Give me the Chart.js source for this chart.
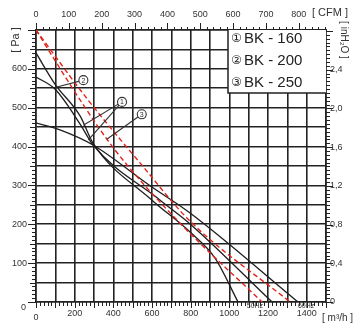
<!DOCTYPE html>
<html><head><meta charset="utf-8">
<script src="https://cdn.jsdelivr.net/npm/chart.js@4.4.1/dist/chart.umd.min.js"></script>
<style>html,body{margin:0;padding:0;background:#fff}</style>
</head><body>
<canvas id="grafico" width="357" height="327"></canvas>
<script>
// caudal en m3/h, presion en Pa
const caudalBK160 = [0, 98, 228, 295, 600, 797, 926, 1045];
const presionBK160 = [641, 561, 479, 409, 262, 180, 113, 0];
const caudalBK200 = [0, 98, 228, 295, 642, 797, 1221];
const presionBK200 = [579, 548, 458, 404, 262, 201, 0];
const caudalBK250 = [0, 124, 295, 590, 797, 1355];
const presionBK250 = [461, 443, 404, 299, 229, 0];
const caudalRojo1 = [0, 228, 409, 729, 1169];
const presionRojo1 = [700, 520, 391, 211, 0];
const caudalRojo2 = [0, 269, 538, 797, 1314];
const presionRojo2 = [700, 520, 358, 208, 0];

const etiquetasM3h = [200, 400, 600, 800, 1000, 1200, 1400];
const etiquetasPa = [100, 200, 300, 400, 500, 600];
const etiquetasCFM = [0, 100, 200, 300, 400, 500, 600, 700, 800];
const etiquetasInH2O = [0, 0.4, 0.8, 1.2, 1.6, 2.0, 2.4];
const nombres = ['BK - 160', 'BK - 200', 'BK - 250'];
const simbolos = ['\u2460', '\u2461', '\u2462'];

// marcas numeradas con sus lineas guia (en m3/h y Pa)
const marcas = [
  { n: '1', en: [445, 515], a: [[245, 455], [271, 417]] },
  { n: '2', en: [245, 571], a: [[98, 552]] },
  { n: '3', en: [547, 483], a: [[366, 419]] }
];

const M3H_POR_CFM = 1.699;
const PA_POR_INH2O = 249.09;
const fuente = '"Liberation Sans", Arial, sans-serif';

const pares = (xs, ys) => xs.map((x, i) => ({ x: x, y: ys[i] }));

const negro = '#1e1e1e';
const rojo = '#e3241c';

const extras = {
  id: 'extras',
  beforeDatasetsDraw(chart) {
    const { ctx, chartArea: a } = chart;
    ctx.save();
    const x0 = 228, y1 = 93;
    ctx.fillStyle = '#fff';
    ctx.fillRect(x0, a.top, a.right - x0, y1 - a.top);
    ctx.strokeStyle = '#222';
    ctx.lineWidth = 1.5;
    ctx.beginPath();
    ctx.moveTo(x0, a.top); ctx.lineTo(x0, y1); ctx.lineTo(a.right, y1);
    ctx.stroke();
    ctx.fillStyle = '#222';
    ctx.textBaseline = 'middle';
    nombres.forEach((t, i) => {
      const yy = 39 + i * 22;
      ctx.font = '12px "DejaVu Sans"';
      ctx.fillText(simbolos[i], 231, yy);
      ctx.font = '15px ' + fuente;
      ctx.fillText(t, 244, yy);
    });
    ctx.restore();
  },
  afterDraw(chart) {
    const { ctx, chartArea: a, scales } = chart;
    const sx = scales.x, sy = scales.y, sx2 = scales.x2, sy2 = scales.y2;
    ctx.save();
    ctx.strokeStyle = '#222';
    ctx.lineWidth = 1;
    ctx.beginPath();
    for (let v = 0; v <= 1500; v += 20) {
      const p = Math.round(sx.getPixelForValue(v)) + 0.5;
      const l = v % 100 === 0 ? 6 : 4;
      ctx.moveTo(p, a.bottom); ctx.lineTo(p, a.bottom + l);
    }
    for (let v = 0; v <= 700; v += 10) {
      const p = Math.round(sy.getPixelForValue(v)) + 0.5;
      const l = v % 100 === 0 ? 8 : (v % 50 === 0 ? 6 : 4);
      ctx.moveTo(a.left - l, p); ctx.lineTo(a.left, p);
    }
    for (let v = 0; v <= sx2.max; v += 20) {
      const p = Math.round(sx2.getPixelForValue(v)) + 0.5;
      const l = v % 100 === 0 ? 7 : 3;
      ctx.moveTo(p, a.top - l); ctx.lineTo(p, a.top);
    }
    for (let i = 0; i * 0.04 <= sy2.max; i++) {
      const p = Math.round(sy2.getPixelForValue(i * 0.04)) + 0.5;
      const l = i % 10 === 0 ? 7 : 4;
      ctx.moveTo(a.right, p); ctx.lineTo(a.right + l, p);
    }
    ctx.stroke();

    // marcas numeradas
    ctx.lineWidth = 1.1;
    ctx.strokeStyle = '#333';
    marcas.forEach(m => {
      const cx = sx.getPixelForValue(m.en[0]), cy = sy.getPixelForValue(m.en[1]);
      m.a.forEach(p => {
        ctx.beginPath();
        ctx.moveTo(cx, cy);
        ctx.lineTo(sx.getPixelForValue(p[0]), sy.getPixelForValue(p[1]));
        ctx.stroke();
      });
      ctx.beginPath();
      ctx.arc(cx, cy, 4.5, 0, Math.PI * 2);
      ctx.fillStyle = '#fff';
      ctx.fill();
      ctx.stroke();
      ctx.fillStyle = '#333';
      ctx.font = '7px ' + fuente;
      ctx.textAlign = 'center';
      ctx.textBaseline = 'middle';
      ctx.fillText(m.n, cx, cy + 0.5);
    });

    // textos de ejes
    ctx.fillStyle = '#333';
    ctx.font = '9px ' + fuente;
    ctx.textAlign = 'center';
    ctx.textBaseline = 'middle';
    ctx.fillText('0', a.left, 318);
    ctx.textAlign = 'right';
    ctx.fillText('0', 26, 308);
    ctx.textAlign = 'left';
    ctx.font = '7px ' + fuente;
    ctx.fillText('50Hz', sx.getPixelForValue(1090), a.bottom + 4);
    ctx.fillText('60Hz', sx.getPixelForValue(1355), a.bottom + 4);
    ctx.font = '11px ' + fuente;
    ctx.fillText('[ CFM ]', 312, 13);
    ctx.font = '10px ' + fuente;
    ctx.fillText('[ m\u00b3/h ]', 322, 318);
    ctx.save();
    ctx.translate(16, 40);
    ctx.rotate(-Math.PI / 2);
    ctx.textAlign = 'center';
    ctx.font = '11px ' + fuente;
    ctx.fillText('[ Pa ]', 0, 0);
    ctx.restore();
    ctx.save();
    ctx.translate(344, 40);
    ctx.rotate(Math.PI / 2);
    ctx.textAlign = 'center';
    ctx.font = '10px ' + fuente;
    ctx.fillText('[ inH\u2082O ]', 0, 0);
    ctx.restore();
    ctx.restore();
  }
};

const curva = (xs, ys, color, guiones) => ({
  data: pares(xs, ys),
  showLine: true,
  borderColor: color,
  borderWidth: guiones ? 1.4 : 1.3,
  borderDash: guiones ? [5, 3] : [],
  pointRadius: 0,
  cubicInterpolationMode: 'monotone',
  fill: false
});

const ejeTicks = { font: { size: 9, family: fuente }, color: '#333', autoSkip: false, maxRotation: 0 };
const rejilla = { color: '#222', lineWidth: 1.6, drawTicks: false };
const borde = { color: '#222', width: 1.6 };

new Chart(document.getElementById('grafico').getContext('2d'), {
  type: 'scatter',
  data: {
    datasets: [
      curva(caudalRojo1, presionRojo1, rojo, true),
      curva(caudalRojo2, presionRojo2, rojo, true),
      curva(caudalBK160, presionBK160, negro, false),
      curva(caudalBK200, presionBK200, negro, false),
      curva(caudalBK250, presionBK250, negro, false)
    ]
  },
  options: {
    responsive: false,
    animation: false,
    layout: { padding: 0 },
    plugins: { legend: { display: false }, tooltip: { enabled: false } },
    scales: {
      x: {
        type: 'linear', position: 'bottom', min: 0, max: 1500,
        grid: rejilla, border: borde,
        ticks: Object.assign({}, ejeTicks, { stepSize: 100, padding: 6,
          callback: v => etiquetasM3h.includes(v) ? v : '' }),
        afterFit: s => { s.height = 25; }
      },
      y: {
        type: 'linear', position: 'left', min: 0, max: 700,
        grid: rejilla, border: borde,
        ticks: Object.assign({}, ejeTicks, { stepSize: 50, padding: 9,
          callback: v => etiquetasPa.includes(v) ? v : '' }),
        afterFit: s => { s.width = 36; }
      },
      x2: {
        type: 'linear', position: 'top', min: 0, max: 1500 / M3H_POR_CFM,
        grid: { display: false, drawTicks: false }, border: borde,
        ticks: Object.assign({}, ejeTicks, { stepSize: 100, padding: 10, includeBounds: false,
          callback: v => etiquetasCFM.includes(v) ? v : '' }),
        afterFit: s => { s.height = 30; }
      },
      y2: {
        type: 'linear', position: 'right', min: 0, max: 700 / PA_POR_INH2O,
        grid: { display: false, drawTicks: false }, border: borde,
        ticks: Object.assign({}, ejeTicks, { stepSize: 0.4, padding: 4, includeBounds: false,
          callback: v => {
            const r = Math.round(v * 10) / 10;
            if (Math.abs(r - v) > 1e-6 || !etiquetasInH2O.includes(r)) return '';
            return r === 0 ? '0' : r.toFixed(1).replace('.', ',');
          } }),
        afterFit: s => { s.width = 31; }
      }
    }
  },
  plugins: [extras]
});
</script>
</body></html>
